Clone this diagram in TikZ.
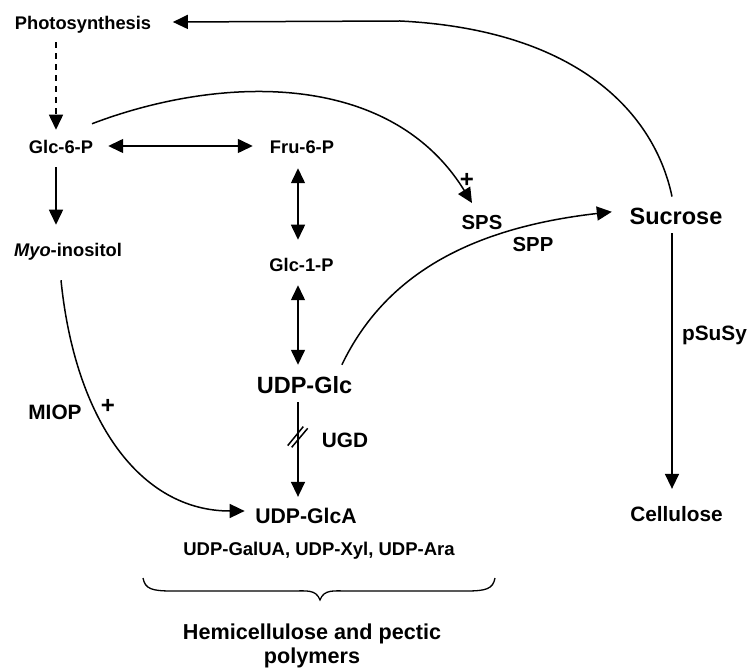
\documentclass[tikz,border=0pt]{standalone}
\usepackage{fontspec}
\setmainfont{Liberation Sans}
\usetikzlibrary{arrows.meta,calc}
\begin{document}
\begin{tikzpicture}[x=1pt,y=-1pt,
  >={Triangle[length=15pt,width=14pt]},
  lbls/.style={inner sep=0pt, font=\bfseries\fontsize{18.3}{22}\selectfont, text height=13.1pt, text depth=0pt},
  lblm/.style={inner sep=0pt, font=\bfseries\fontsize{20.8}{25}\selectfont, text height=14.9pt, text depth=0pt},
  lblb/.style={inner sep=0pt, font=\bfseries\fontsize{23.5}{28}\selectfont, text height=16.8pt, text depth=0pt},
  plusmark/.style={inner sep=0pt, font=\bfseries\fontsize{24}{28}\selectfont, text height=17.2pt, text depth=0pt},
  conn/.style={line width=1.5pt, ->},
  dconn/.style={line width=1.5pt, <->},
  dasharrow/.style={line width=1.5pt, ->, dash pattern=on 6pt off 5pt},
  plain/.style={line width=1.5pt}
]
\useasboundingbox (0,0) rectangle (747,668);

% nodes
\node[lbls] (photo) at (83,23) {Photosynthesis};
\node[lbls] (g6p) at (61,147) {Glc-6-P};
\node[lbls] (f6p) at (302,147) {Fru-6-P};
\node[lbls] (myo) at (68,250) {{\itshape Myo}-inositol};
\node[lbls] (g1p) at (301.5,265) {Glc-1-P};
\node[lblb] (udpglc) at (304.5,385) {UDP-Glc};
\node[lblm, font=\bfseries\fontsize{21.2}{25}\selectfont] (udpglca) at (306,516.5) {UDP-GlcA};
\node[lblm] (ugd) at (345,440.5) {UGD};
\node[lblm] (miop) at (55,412.5) {MIOP};
\node[plusmark] (plusa) at (108,405) {+};
\node[lblm, font=\bfseries\fontsize{20.3}{25}\selectfont] (sps) at (482,221.7) {SPS};
\node[plusmark] (plusb) at (467,179) {+};
\node[lblm, font=\bfseries\fontsize{20.3}{25}\selectfont] (spp) at (533,244) {SPP};
\node[lblb] (sucrose) at (676,215.8) {Sucrose};
\node[lblm] (psusy) at (714.5,333) {pSuSy};
\node[lblm] (cellulose) at (676.5,514.5) {Cellulose};
\node[lbls, font=\bfseries\fontsize{18.5}{22}\selectfont] (udpgal) at (319,549) {UDP-GalUA, UDP-Xyl, UDP-Ara};
\node[inner sep=0pt, anchor=north, align=center, font=\bfseries\fontsize{21.6}{23.5}\selectfont] (hemi) at (312,624) {Hemicellulose and pectic\\polymers};

% connectors
\draw[dasharrow] ($(photo.south -| g6p.north)+(-5,12.5)$) -- ($(g6p.north)+(-5,-10.5)$);
\draw[dconn] ($(g6p.east)+(15,-1)$) -- ($(f6p.west)+(-17,-1)$);
\draw[conn] ($(g6p.south)+(-5,13.5)$) -- ($(g6p.south |- myo.north)+(-5,-18.5)$);
\draw[dconn] ($(f6p.south)+(-4,14.5)$) -- ($(f6p.south |- g1p.north)+(-4,-18.5)$);
\draw[dconn] ($(g1p.south)+(-3.5,13.5)$) -- ($(g1p.south |- udpglc.north)+(-3.5,-11.6)$);
\draw[conn] ($(udpglc.south)+(-6.5,8.6)$) -- ($(udpglc.south |- udpglca.north)+(-6.5,-12)$);
\coordinate (slashmid) at ($(udpglc.south)+(-6.5,43)$);
\draw[plain] ($(slashmid)+(-10.3,9)$) -- ($(slashmid)+(5.3,-10)$);
\draw[plain] ($(slashmid)+(-6.3,10.7)$) -- ($(slashmid)+(9.7,-8.3)$);
\draw[conn] ($(myo.south)+(-7,23.5)$) .. controls (75,420) and (140,511) .. ($(udpglca.west)+(-10.5,-5.5)$);
\draw[conn] ($(g6p.north)+(31,-16.5)$) .. controls (220,75) and (390,70) .. ($(sps.north)+(-10,-11)$);
\draw[conn] ($(udpglc.north east)+(-10.5,-11.6)$) .. controls (385,275) and (470,228) .. ($(sucrose.west)+(-17.6,-4)$);
\draw[conn] ($(sucrose.north)+(-4,-10.6)$) .. controls (655,115) and (580,30) .. (400,21) -- ($(photo.east)+(21.5,-1)$);
\draw[conn] ($(sucrose.south)+(-4,8.8)$) -- ($(sucrose.south |- cellulose.north)+(-4,-18)$);

% brace
\draw[line width=1.3pt] (143,578) .. controls (145,589) and (152,591) .. (172,591) -- (292,591)
  .. controls (306,591) and (316,589) .. (320,600)
  .. controls (324,589) and (334,591) .. (348,591) -- (466,591)
  .. controls (486,591) and (493,589) .. (495,578);
\end{tikzpicture}
\end{document}
